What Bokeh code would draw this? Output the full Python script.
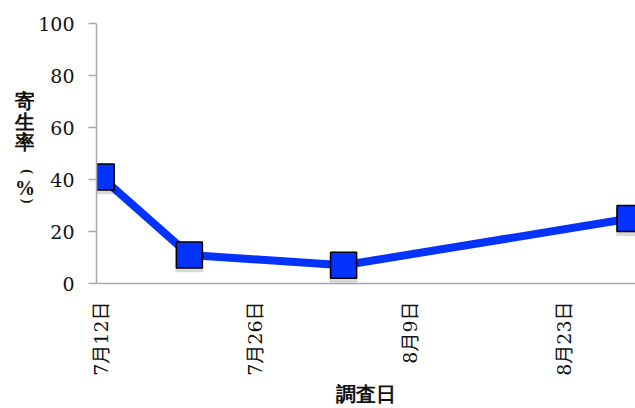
import math
import pandas as pd
from bokeh.plotting import figure
from bokeh.layouts import row, column
from bokeh.models import FixedTicker, Range1d
from bokeh.embed import file_html
from bokeh.resources import INLINE

YEAR = 2013

# survey dates (month/day) and parasitism rate (%)
survey_dates = ["7/12", "7/20", "8/3", "8/29"]
parasitism = [41, 11, 7, 25]

# x-axis ticks
tick_dates = ["7/12", "7/26", "8/9", "8/23"]
tick_labels = ["7月12日", "7月26日", "8月9日", "8月23日"]

# y-axis ticks
y_ticks = [0, 20, 40, 60, 80, 100]

# axis titles
y_title_chars = ["寄", "生", "率", "%"]
y_title_parens = ["(", ")"]
x_title = "調査日"


def to_day(md):
    return pd.Timestamp(f"{YEAR}/{md}")


origin = to_day(tick_dates[0])
x_days = [(to_day(d) - origin).days for d in survey_dates]
tick_days = [(to_day(d) - origin).days for d in tick_dates]

BLUE = "#0433FF"
INK = "#111111"
SERIF = "DejaVu Serif, Noto Sans CJK JP"
CJK = "Noto Sans CJK JP"

W, H = 635, 408
TITLE_W = 34      # strip holding the vertical y-axis title
BOTTOM_H = 30     # strip holding the x-axis title
MAIN_H = H - BOTTOM_H
FRAME_TOP, FRAME_BOTTOM = 23, 283


def blank(width, height, x_range, y_range, **borders):
    f = figure(width=width, height=height, output_backend="svg",
               toolbar_location=None, x_axis_location=None, y_axis_location=None,
               x_range=x_range, y_range=y_range, min_border=0, **borders)
    f.outline_line_color = None
    f.xgrid.visible = False
    f.ygrid.visible = False
    f.background_fill_color = "white"
    f.border_fill_color = "white"
    return f


# --- main chart -------------------------------------------------------------
p = figure(
    width=W - TITLE_W, height=MAIN_H,
    output_backend="svg", toolbar_location=None,
    x_range=Range1d(-0.43, 48.5), y_range=Range1d(0, 100),
    min_border_left=96 - TITLE_W, min_border_right=0,
    min_border_top=FRAME_TOP, min_border_bottom=MAIN_H - FRAME_BOTTOM,
)
p.outline_line_color = None
p.background_fill_color = "white"
p.border_fill_color = "white"
p.xgrid.visible = False
p.ygrid.visible = False

xa = p.xaxis[0]
xa.ticker = FixedTicker(ticks=tick_days)
xa.major_label_overrides = {t: lab for t, lab in zip(tick_days, tick_labels)}
xa.major_label_orientation = math.pi / 2
xa.major_label_text_font = SERIF
xa.major_label_text_font_size = "19px"
xa.major_label_text_color = INK
xa.major_label_standoff = 18
xa.major_tick_out = 0
xa.major_tick_in = 0
xa.minor_tick_out = 0
xa.minor_tick_in = 0
xa.axis_line_color = "#a8a8a8"
xa.axis_line_width = 1.5

ya = p.yaxis[0]
ya.ticker = FixedTicker(ticks=y_ticks)
ya.major_label_text_font = SERIF
ya.major_label_text_font_size = "19px"
ya.major_label_text_color = INK
ya.major_label_standoff = 14
ya.major_tick_out = 8
ya.major_tick_in = 0
ya.major_tick_line_color = "#a8a8a8"
ya.major_tick_line_width = 1.5
ya.minor_tick_out = 0
ya.minor_tick_in = 0
ya.axis_line_color = "#a8a8a8"
ya.axis_line_width = 1.5

# series line, marker shadows, markers
p.line(x_days, parasitism, line_color=BLUE, line_width=8)
p.scatter(x_days, [v - 1.3 for v in parasitism], marker="square", size=28,
          fill_color="black", fill_alpha=0.15, line_color=None)
p.scatter(x_days, parasitism, marker="square", size=26,
          fill_color=BLUE, line_color="black", line_width=1.5)

# --- vertical y-axis title (upright characters, turned brackets) -------------
# its frame shares the main chart's top/bottom borders; y counts down in pixels
ty = blank(TITLE_W, MAIN_H, Range1d(0, TITLE_W), Range1d(FRAME_BOTTOM, FRAME_TOP),
           min_border_top=FRAME_TOP, min_border_bottom=MAIN_H - FRAME_BOTTOM)
ty.text(x=[24.5] * 4, y=[100, 121, 141.5, 187], text=y_title_chars,
        text_font=CJK, text_font_style="bold", text_font_size="20px",
        text_color=INK, text_align="center", text_baseline="middle")
ty.text(x=[26.5, 26.5], y=[171, 200.5], text=y_title_parens,
        angle=-math.pi / 2,
        text_font=CJK, text_font_style="bold", text_font_size="14px",
        text_color=INK, text_align="center", text_baseline="middle")

# --- x-axis title -----------------------------------------------------------
tx = blank(W, BOTTOM_H, Range1d(0, W), Range1d(BOTTOM_H, 0))
tx.text(x=[365.5], y=[15.5], text=[x_title],
        text_font=CJK, text_font_style="bold", text_font_size="20px",
        text_color=INK, text_align="center", text_baseline="middle")

layout = column(row(ty, p, spacing=0), tx, spacing=0)

open("out.html", "w").write(file_html(layout, INLINE))
